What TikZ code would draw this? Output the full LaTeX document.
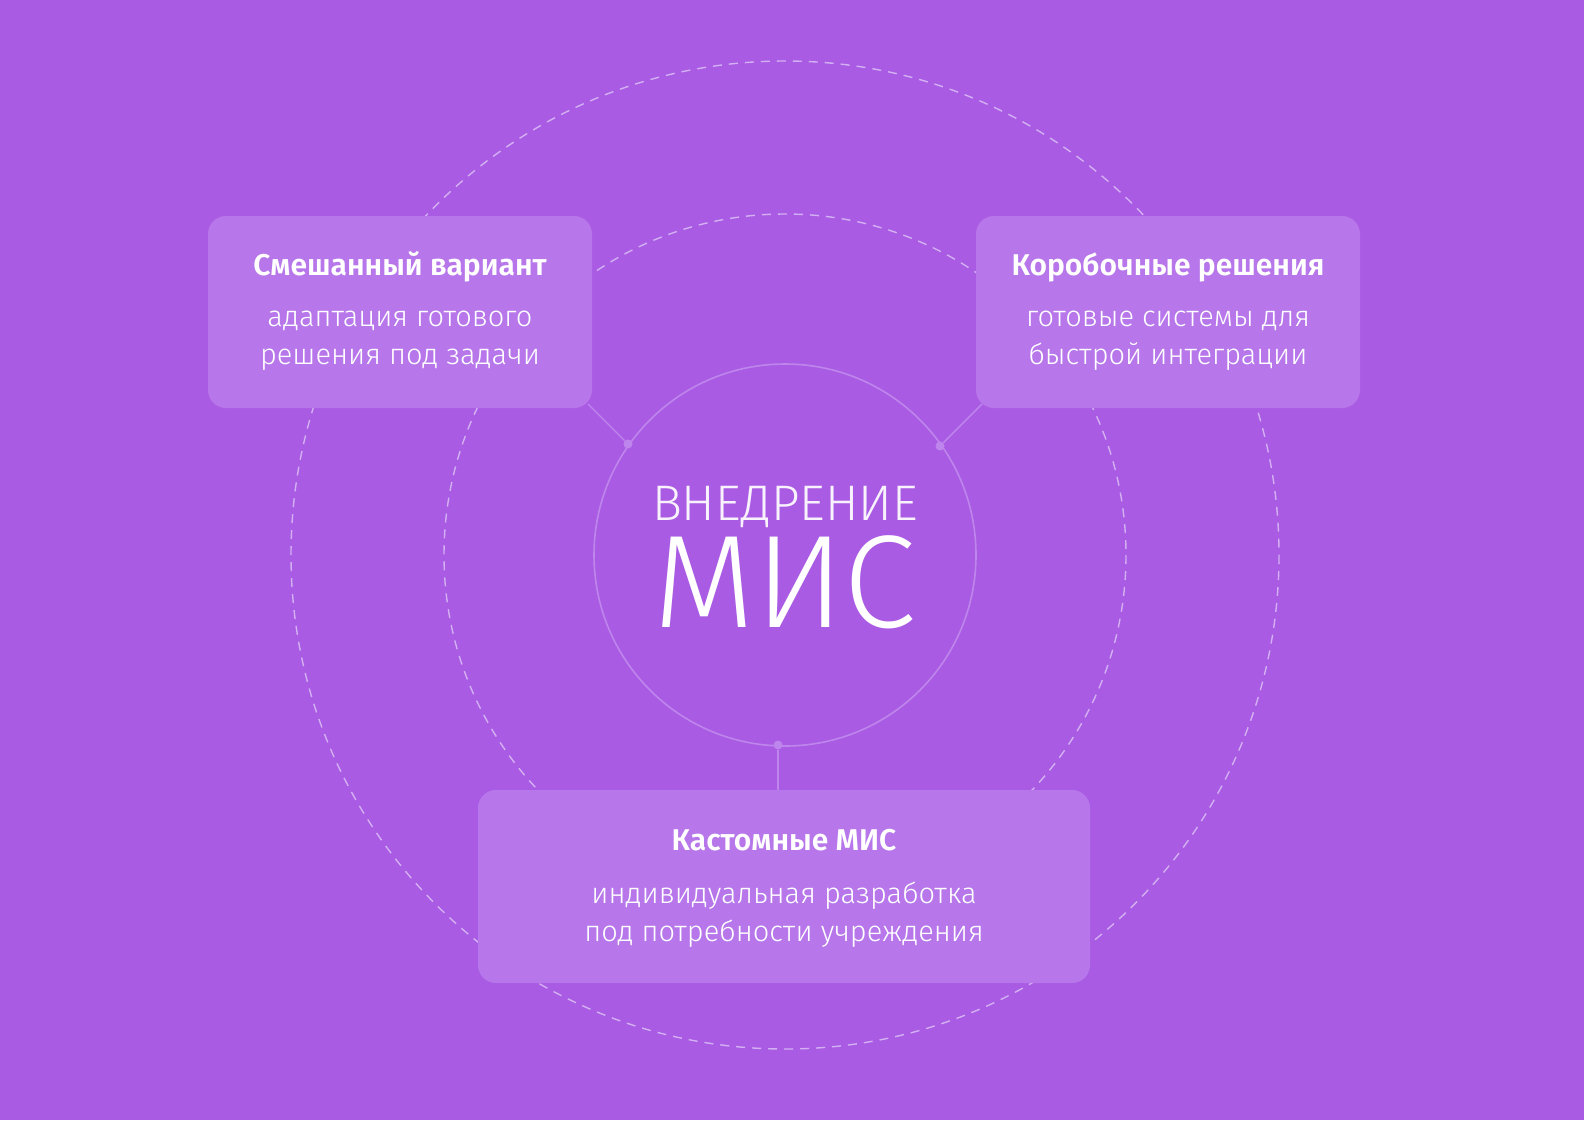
\documentclass[tikz,border=0pt]{standalone}
\usepackage{fontspec}
\setmainfont{Fira Sans}
\newfontfamily\lightf{Fira Sans Light}
\newfontfamily\semif{Fira Sans SemiBold}
\definecolor{bg}{HTML}{AA5BE3}
\definecolor{boxc}{HTML}{B777EA}
\definecolor{ringc}{HTML}{D2B0F2}
\definecolor{ringsolid}{HTML}{BE86EC}
\begin{document}
\begin{tikzpicture}[x=1pt,y=-1pt,
  dring/.style={draw=ringc,line width=1.4pt,dash pattern=on 9pt off 7pt},
  card/.style={draw=none,fill=boxc,rounded corners=18pt},
  ttl/.style={font=\fontsize{30}{34}\semif,text=white},
  body/.style={font=\fontsize{29}{38}\lightf,text=white,align=center},
  link/.style={draw=ringsolid,line width=1.4pt},
  dot/.style={circle,fill=ringsolid,inner sep=0pt,minimum size=9pt}]
\fill[bg] (0,0) rectangle (1584,1120);
\useasboundingbox (0,0) rectangle (1584,1120);
\coordinate (c) at (785,555);
\draw[dring] (c) circle[radius=494];
\draw[dring] (c) circle[radius=341];
\draw[draw=ringsolid,line width=1.6pt] (c) circle[radius=191];
% cards
\path[card] (208,216) rectangle (592,408);
\path[card] (976,216) rectangle (1360,408);
\path[card] (478,790) rectangle (1090,983);
\coordinate (lc) at (588,404);
\coordinate (rc) at (982,404);
\coordinate (bc) at (778,790);
\node[dot] (ld) at (628,444) {};
\node[dot] (rd) at (940,446) {};
\node[dot] (bd) at (778,745) {};
\draw[link] (lc) -- (ld);
\draw[link] (rc) -- (rd);
\draw[link] (bd) -- (bc);
\node[ttl] (t1) at (400,267) {Смешанный вариант};
\node[body] (b1) at (400,341) {адаптация готового\\решения под задачи};
\node[ttl] (t2) at (1168,267) {Коробочные решения};
\node[body] (b2) at (1168,341) {готовые системы для\\быстрой интеграции};
\node[ttl] (t3) at (784,840) {Кастомные МИС};
\node[body] (b3) at (784,915) {индивидуальная разработка\\под потребности учреждения};
\node[font=\fontsize{50}{52}\lightf,text=white!92!bg] (h1) at (785,507) {ВНЕДРЕНИЕ};
\node[font=\fontsize{132}{132}\lightf,text=white] (h2) at (785,582) {МИС};
\end{tikzpicture}
\end{document}
